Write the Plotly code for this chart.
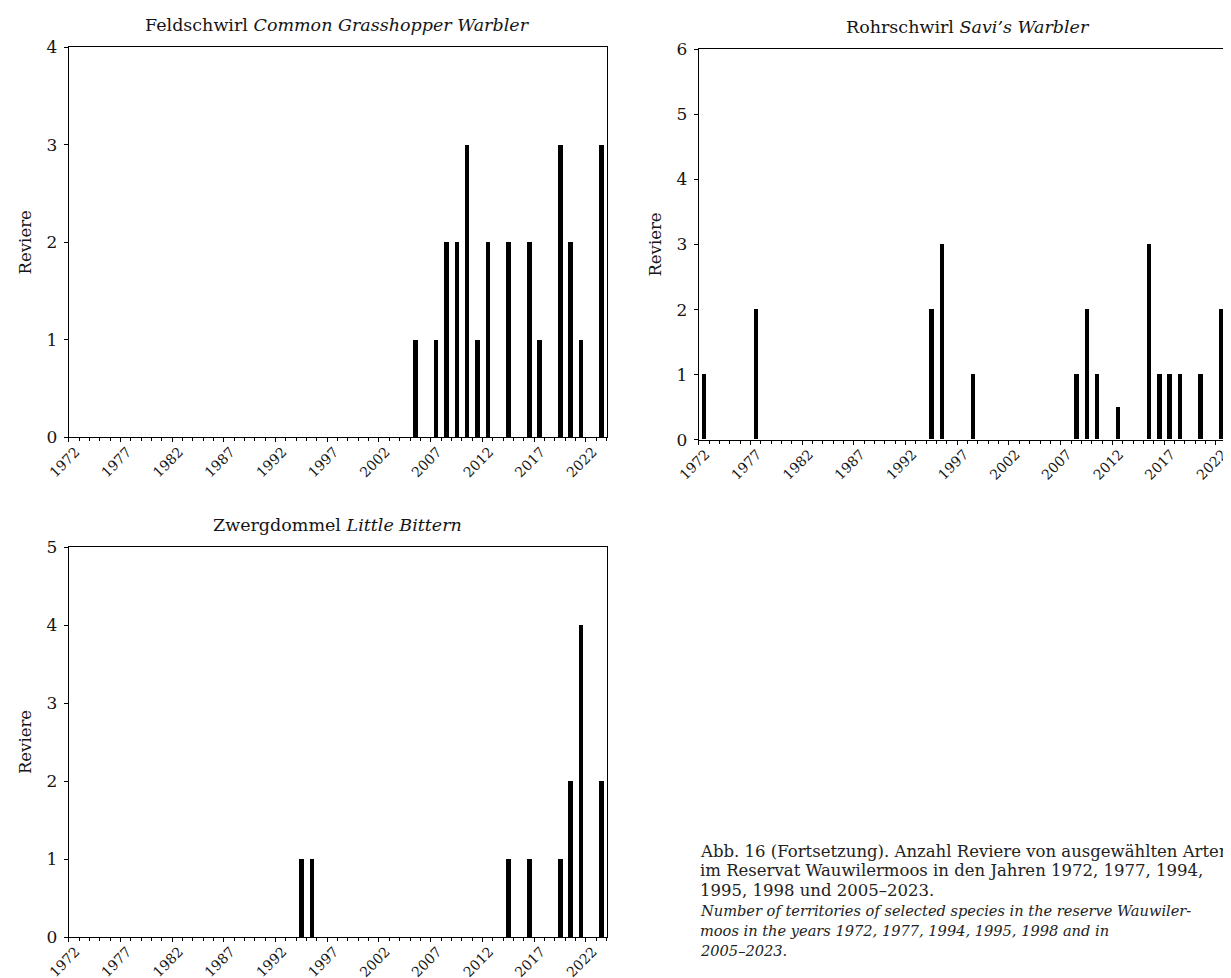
import plotly.graph_objects as go

# ---- data ----
years = [1972, 1977, 1994, 1995, 1998, 2005, 2006, 2007, 2008, 2009, 2010, 2011,
         2012, 2013, 2014, 2015, 2016, 2017, 2018, 2019, 2020, 2021, 2022, 2023]

feldschwirl = [0, 0, 0, 0, 0, 1, 0, 1, 2, 2, 3, 1,
               2, 0, 2, 0, 2, 1, 0, 3, 2, 1, 0, 3]
rohrschwirl = [1, 2, 2, 3, 1, 0, 0, 0, 1, 2, 1, 0,
               0.5, 0, 0, 3, 1, 1, 1, 0, 1, 0, 2, 5]
zwergdommel = [0, 0, 1, 1, 0, 0, 0, 0, 0, 0, 0, 0,
               0, 0, 1, 0, 1, 0, 0, 1, 2, 4, 0, 2]

major_ticks = [1972, 1977, 1982, 1987, 1992, 1997, 2002, 2007, 2012, 2017, 2022]
major_labels = [str(v) for v in major_ticks]

titles = ["Feldschwirl <i>Common Grasshopper Warbler</i>",
          "Rohrschwirl <i>Savi’s Warbler</i>",
          "Zwergdommel <i>Little Bittern</i>"]
y_max = [4, 6, 5]
y_label = "Reviere"

caption_de = [
    "Abb. 16 (Fortsetzung). Anzahl Reviere von ausgewählten Arten",
    "im Reservat Wauwilermoos in den Jahren 1972, 1977, 1994,",
    "1995, 1998 und 2005–2023.",
]
caption_en = [
    "Number of territories of selected species in the reserve Wauwiler-",
    "moos in the years 1972, 1977, 1994, 1995, 1998 and in",
    "2005–2023.",
]

# ---- layout geometry ----
W, H = 1231, 978
FONT = "DejaVu Serif"
TXT = "#151515"

def px_x(v):
    return v / W

def px_y(v):
    return 1 - v / H

panels = [
    dict(x0=60.7, x1=598.5, y0=39.3, y1=429.3),    # top-left
    dict(x0=690.7, x1=1228.5, y0=41.3, y1=431.7),  # top-right
    dict(x0=60.7, x1=598.5, y0=539.0, y1=929.0),   # bottom-left
]
series = [feldschwirl, rohrschwirl, zwergdommel]

fig = go.Figure()
layout = dict(
    width=W, height=H, autosize=False,
    margin=dict(l=0, r=0, t=0, b=0, autoexpand=False),
    paper_bgcolor="white", plot_bgcolor="white",
    showlegend=False,
    font=dict(family=FONT, size=16, color=TXT),
    bargap=0,
)
annotations = []

for i, (p, vals) in enumerate(zip(panels, series)):
    n = "" if i == 0 else str(i + 1)
    fig.add_trace(go.Bar(
        x=years, y=vals, xaxis="x" + n, yaxis="y" + n,
        width=0.44, offset=0.28,
        marker=dict(color="black", line=dict(width=0)),
        hoverinfo="x+y",
    ))
    layout["xaxis" + n] = dict(
        domain=[px_x(p["x0"]), px_x(p["x1"])],
        anchor="y" + n, automargin=False,
        range=[1972, 2024],
        tickmode="array", tickvals=major_ticks, ticktext=major_labels,
        ticks="outside", ticklen=4, tickwidth=1, tickcolor="black",
        minor=dict(dtick=1, tick0=1972, ticks="outside", ticklen=3,
                   tickwidth=1, tickcolor="black", showgrid=False),
        tickangle=-45, ticklabelshift=7, ticklabelstandoff=-4,
        tickfont=dict(family=FONT, size=14, color=TXT),
        showline=True, linecolor="black", linewidth=1, mirror=True,
        showgrid=False, zeroline=False, fixedrange=True,
    )
    layout["yaxis" + n] = dict(
        domain=[px_y(p["y1"]), px_y(p["y0"])],
        anchor="x" + n, automargin=False,
        range=[0, y_max[i]],
        tickmode="linear", tick0=0, dtick=1,
        ticks="outside", ticklen=4, tickwidth=1, tickcolor="black",
        tickfont=dict(family=FONT, size=17, color=TXT),
        ticklabelstandoff=3,
        showline=True, linecolor="black", linewidth=1, mirror=True,
        showgrid=False, zeroline=False, fixedrange=True,
        title=dict(text=y_label, font=dict(family=FONT, size=16.5, color=TXT),
                   standoff=10),
    )
    annotations.append(dict(
        text=titles[i], xref="paper", yref="paper",
        x=px_x((p["x0"] + p["x1"]) / 2), y=px_y(p["y0"] - 22),
        xanchor="center", yanchor="middle", showarrow=False,
        font=dict(family=FONT, size=17.5, color=TXT),
    ))

# caption, one annotation per line for tight line spacing
cap_x, cap_top, cap_step = 690, 843, 19.8
for k, line in enumerate(caption_de + caption_en):
    italic = k >= len(caption_de)
    annotations.append(dict(
        text=line, xref="paper", yref="paper",
        x=px_x(cap_x), y=px_y(cap_top + k * cap_step),
        xanchor="left", yanchor="middle", align="left", showarrow=False,
        font=dict(family=FONT, size=14.6 if italic else 16.5, color="#222",
                  style="italic" if italic else "normal"),
    ))

layout["annotations"] = annotations
fig.update_layout(**layout)
fig.write_html("out.html")
